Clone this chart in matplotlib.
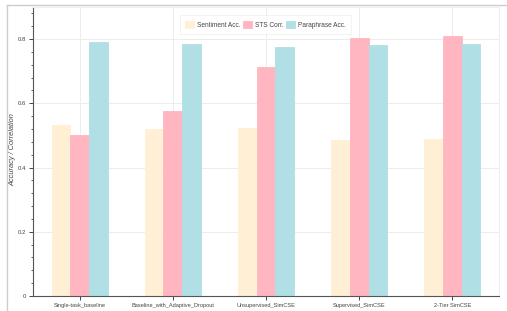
import matplotlib.pyplot as plt
from matplotlib.lines import Line2D
from matplotlib.ticker import MultipleLocator
import numpy as np

plt.rcParams['font.family'] = ['Liberation Sans', 'DejaVu Sans']

# Data
models = ["Single-task_baseline", "Baseline_with_Adaptive_Dropout",
          "Unsupervised_SimCSE", "Supervised_SimCSE", "2-Tier SimCSE"]
sentiment_acc = [0.533, 0.520, 0.524, 0.486, 0.489]
sts_corr = [0.502, 0.577, 0.714, 0.805, 0.811]
paraphrase_acc = [0.792, 0.784, 0.776, 0.781, 0.785]

series = [("Sentiment Acc.", sentiment_acc, "#FFEFD5"),
          ("STS Corr.", sts_corr, "#FFB6C1"),
          ("Paraphrase Acc.", paraphrase_acc, "#B0E0E6")]

fig = plt.figure(figsize=(5.07, 3.11), dpi=100)
ax = fig.add_axes([33 / 507, 15 / 311, 466 / 507, 289 / 311])

x = np.arange(len(models))
width = 0.2
for i, (name, vals, color) in enumerate(series):
    ax.bar(x + (i - 1) * width, vals, width, color=color, edgecolor=color,
           linewidth=0.6, label=name, zorder=2)

ax.set_xlim(-0.5, 4.5)
ax.set_ylim(0, 0.9)
ax.set_xticks(x)
ax.set_xticklabels(models, fontsize=4.1, color="#444444")
ax.yaxis.set_minor_locator(MultipleLocator(0.04))
ax.set_yticks([0, 0.2, 0.4, 0.6, 0.8])
ax.set_yticklabels(["0", "0.2", "0.4", "0.6", "0.8"], fontsize=4.3, color="#444444")
ax.tick_params(axis='both', which='major', length=3, width=0.7, color="#444444", pad=2)
ax.tick_params(axis='y', which='minor', length=1.6, width=0.6, color="#444444")

ax.grid(True, color="#ececec", linewidth=0.7, zorder=0)
ax.set_axisbelow(True)

for s in ['top', 'right']:
    ax.spines[s].set_color("#eeeeee")
    ax.spines[s].set_linewidth(0.8)
for s in ['left', 'bottom']:
    ax.spines[s].set_color("#555555")
    ax.spines[s].set_linewidth(0.8)

ax.set_ylabel("Accuracy / Correlation", fontsize=5.3, style='italic',
              color="#444444")
ax.yaxis.set_label_coords(-0.036, 0.505)

leg = ax.legend(loc='upper left', bbox_to_anchor=(0.308, 0.982), ncol=3,
                fontsize=4.7, frameon=True, fancybox=False, handlelength=1.4,
                handleheight=1.4, handletextpad=0.5, columnspacing=0.3,
                borderpad=0.8, edgecolor="#eeeeee")
leg.get_frame().set_linewidth(0.6)
for t in leg.get_texts():
    t.set_color("#444444")

# outer frame lines
fig.add_artist(Line2D([7 / 507, 1], [1 - 5 / 311, 1 - 5 / 311],
                      transform=fig.transFigure, color="#cccccc", linewidth=1))
fig.add_artist(Line2D([7 / 507, 7 / 507], [0, 1 - 5 / 311],
                      transform=fig.transFigure, color="#cccccc", linewidth=1))

fig.savefig("out.png", dpi=100)
